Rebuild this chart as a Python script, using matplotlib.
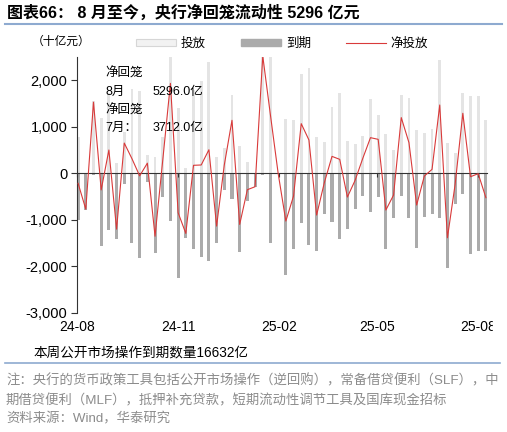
import matplotlib
matplotlib.use("Agg")
import matplotlib.pyplot as plt
import matplotlib.dates as mdates
from matplotlib.patches import Patch, Rectangle
from matplotlib.lines import Line2D
from matplotlib.ticker import FuncFormatter
import numpy as np
import pandas as pd

plt.rcParams['font.family'] = ['Liberation Sans', 'Noto Sans CJK SC', 'DejaVu Sans']
plt.rcParams['axes.unicode_minus'] = False

# weekly open market operations, 十亿元
weeks = pd.date_range('2024-08-02', periods=54, freq='7D')
inject = [790, 10, 1560, 1200, 1716, 215, 880, 1806, 1760, 398,
          355, 790, 2950, 1412, 108, 1800, 1986, 2385, 358, 538,
          1685, 588, 237, 0, 2560, 2740, 0, 1165, 1140, 2129,
          2258, 774, 681, 1419, 1720, 695, 624, 810, 1591, 1247,
          839, 502, 1685, 1613, 932, 875, 961, 2437, 659, 430,
          1735, 1663, 1663, 1140.6]
mature = [1004, 780, 30, 1556, 1214, 1414, 229, 1491, 1814, 179,
          1706, 509, 1016, 2258, 1398, 1627, 1806, 1878, 1491, 358,
          545, 1685, 588, 287, 40, 1491, 0, 2190, 1627, 1061,
          1541, 1670, 882, 1054, 1419, 1204, 774, 487, 824, 516,
          1627, 968, 487, 953, 1613, 932, 875, 968, 2043, 667,
          444, 1735, 1670, 1663.2]
tick_dates = ['2024-08-01', '2024-11-01', '2025-02-01', '2025-05-01', '2025-08-01']

x = mdates.date2num(weeks)
inject = np.array(inject)
mature = np.array(mature)
net = inject - mature

W, H = 507, 432
fig = plt.figure(figsize=(W / 100, H / 100), dpi=100)
ax = fig.add_axes([77 / W, 1 - 313 / H, 410 / W, 256 / H])

light = '#e4e4e4'
dark = '#ababab'
red = '#d93a3a'

ax.bar(x, inject, width=2.6, color=light, zorder=1)
ax.bar(x, -mature, width=2.8, color=dark, zorder=1)
ax.plot(x, net, color=red, lw=0.8, zorder=3)

ax.set_ylim(-3000, 2500)
ax.set_yticks(np.arange(-3000, 2001, 1000))
ax.yaxis.set_major_formatter(FuncFormatter(lambda v, p: f'{v:,.0f}'))
ax.set_xlim(mdates.date2num(pd.Timestamp('2024-08-01')),
            mdates.date2num(pd.Timestamp('2025-08-09')))

for s in ['top', 'right']:
    ax.spines[s].set_visible(False)
ax.spines['left'].set_color('#333333')
ax.spines['bottom'].set_position(('data', 0))
ax.spines['bottom'].set_color('#333333')
ax.spines['bottom'].set_zorder(2.5)

ticks = mdates.date2num(pd.to_datetime(tick_dates))
ax.set_xticks(ticks)
ax.tick_params(axis='x', direction='out', length=3, color='#333333', labelbottom=False)
ax.tick_params(axis='y', direction='out', length=4, color='#333333', labelsize=10.5, pad=3)

# date labels sit at the bottom of the plot, not on the zero line
sec = ax.secondary_xaxis('bottom')
sec.set_xticks(ticks)
sec.xaxis.set_major_formatter(mdates.DateFormatter('%y-%m'))
sec.spines['bottom'].set_visible(False)
sec.tick_params(length=0, labelsize=10, pad=5)

# legend
handles = [Patch(facecolor='#f2f2f2', edgecolor='#d6d6d6', lw=0.8),
           Patch(facecolor=dark, edgecolor=dark),
           Line2D([0], [0], color=red, lw=0.8)]
fig.legend(handles, ['投放', '到期', '净投放'], loc='center',
           bbox_to_anchor=(282 / W, 1 - 44 / H), ncol=3, frameon=False,
           fontsize=9, handlelength=3.2, handleheight=0.5,
           columnspacing=2.8, handletextpad=0.4)

fig.text(32 / W, 1 - 42 / H, '（十亿元）', fontsize=8.5, va='center')

# annotation inside the plot
anno = 9
fig.text(105 / W, 1 - 73 / H, '净回笼', fontsize=anno, va='center')
fig.text(105 / W, 1 - 92 / H, '8月', fontsize=anno, va='center')
fig.text(153 / W, 1 - 92 / H, '5296.0亿', fontsize=anno, va='center')
fig.text(105 / W, 1 - 110 / H, '净回笼', fontsize=anno, va='center')
fig.text(105 / W, 1 - 128 / H, '7月：', fontsize=anno, va='center')
fig.text(153 / W, 1 - 128 / H, '3712.0亿', fontsize=anno, va='center')

# title and notes
fig.text(7 / W, 1 - 13 / H, '图表66： 8 月至今，央行净回笼流动性 5296 亿元',
         fontsize=11.5, fontweight='bold', va='center')
fig.add_artist(Line2D([5 / W, 502 / W], [1 - 24 / H] * 2, color='#8eaad0', lw=1.5))

fig.text(33 / W, 1 - 352 / H, '本周公开市场操作到期数量16632亿', fontsize=9.8, va='center')
fig.add_artist(Line2D([5 / W, 500 / W], [1 - 363 / H] * 2, color='#8eaad0', lw=1.2))

grey_txt = '#8c8c8c'
fig.text(6 / W, 1 - 381 / H,
         '注：央行的货币政策工具包括公开市场操作（逆回购），常备借贷便利（SLF），中',
         fontsize=9.6, color=grey_txt, va='center')
fig.text(6 / W, 1 - 401 / H,
         '期借贷便利（MLF），抵押补充贷款，短期流动性调节工具及国库现金招标',
         fontsize=9.6, color=grey_txt, va='center')
fig.text(6 / W, 1 - 419 / H, '资料来源：Wind，华泰研究',
         fontsize=9.6, color=grey_txt, va='center')

# the last date label is cut off at the chart edge in the source
fig.add_artist(Rectangle((493 / W, 1 - 338 / H), 14 / W, 22 / H,
                         transform=fig.transFigure, color='white', zorder=5))

fig.savefig('out.png', dpi=100)
